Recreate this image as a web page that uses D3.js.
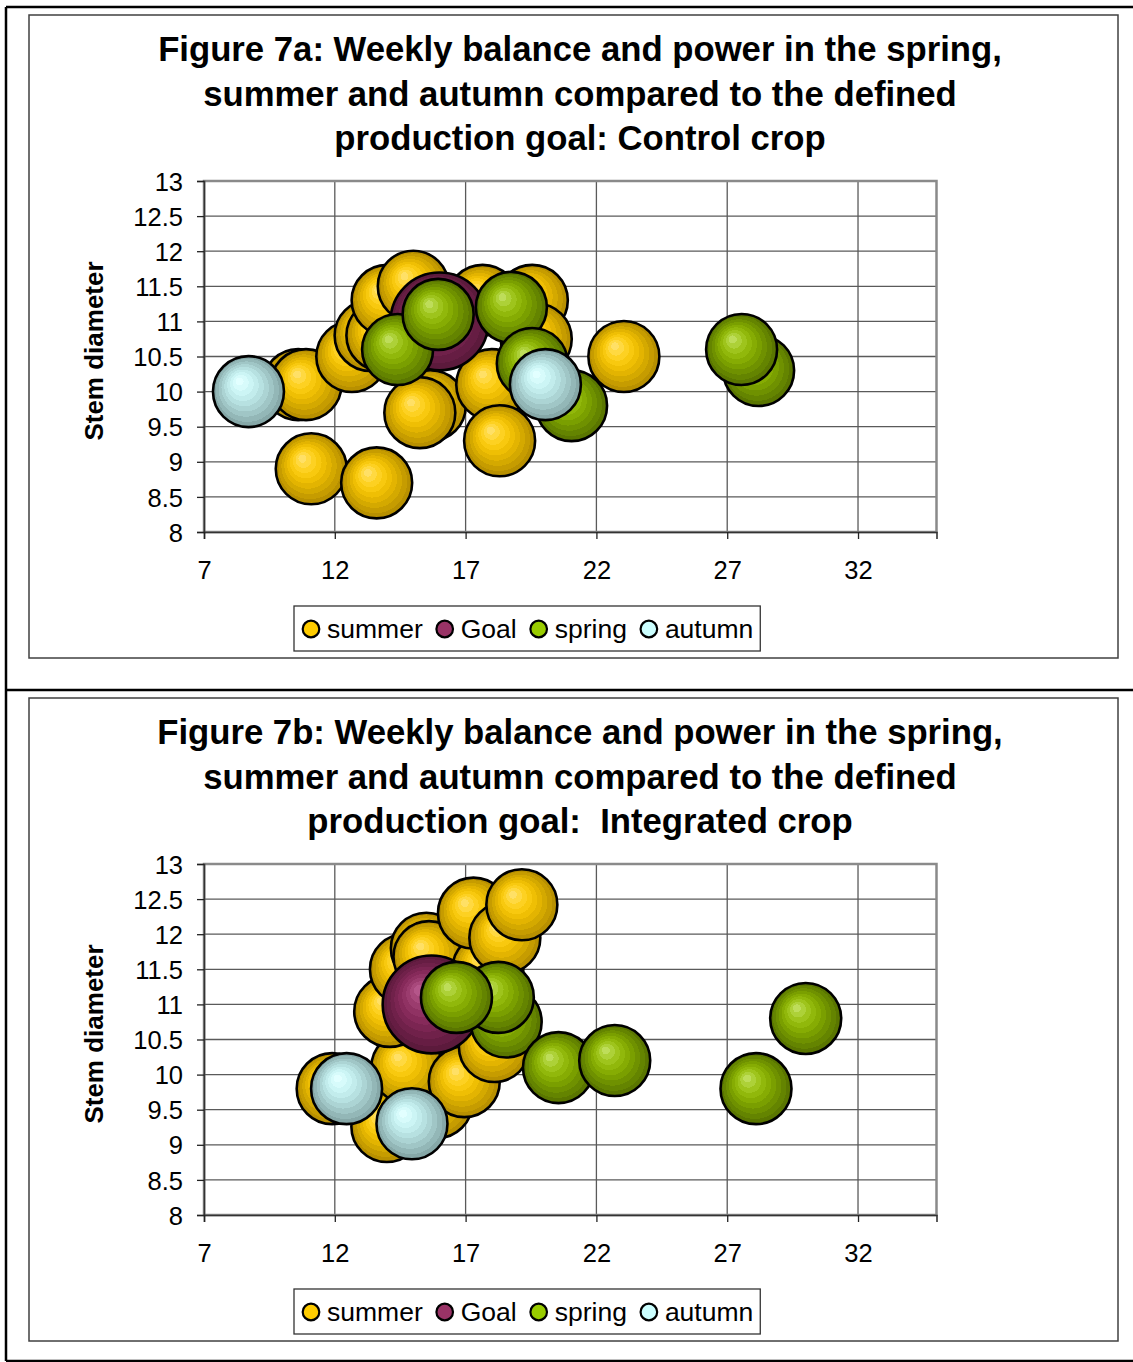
<!DOCTYPE html>
<html>
<head>
<meta charset="utf-8">
<script src="https://cdn.jsdelivr.net/npm/d3@7"></script>
<style>
  html, body { margin: 0; padding: 0; background: #fff; }
  svg { display: block; }
  text { font-family: "Liberation Sans", Arial, sans-serif; fill: #000; }
</style>
</head>
<body>
<script>
// ---- data -------------------------------------------------------------
const seriesNames = ["summer", "Goal", "spring", "autumn"];
const xTicks = [7, 12, 17, 22, 27, 32];
const yTicks = [8, 8.5, 9, 9.5, 10, 10.5, 11, 11.5, 12, 12.5, 13];
const xDomain = [7, 35];
const yDomain = [8, 13];

// bubble size values per series
const bubbleSizes = [1, 1.9, 1, 1];

// Figure 7a: Control crop  [week power, stem diameter]
const controlSummer = [
  [10.6, 10.1], [10.9, 10.1], [11.1, 8.9], [13.6, 8.7], [12.65, 10.5],
  [13.35, 10.8], [13.8, 10.8], [14.0, 11.3], [15.0, 11.5], [15.65, 9.8],
  [15.25, 9.7], [17.65, 11.3], [19.55, 11.3], [19.7, 10.75], [18.0, 10.1],
  [18.3, 9.3], [23.05, 10.5]
];
const controlGoal = [[16.0, 11.0]];
const controlSpring = [
  [14.4, 10.6], [15.95, 11.1], [18.75, 11.2], [21.05, 9.8], [19.55, 10.4],
  [28.2, 10.3], [27.55, 10.6]
];
const controlAutumn = [[8.7, 10.0], [20.05, 10.1]];

// Figure 7b: Integrated crop
const integratedSummer = [
  [11.9, 9.8], [13.99, 9.26], [15.9, 9.6], [14.75, 10.1], [16.95, 9.9],
  [18.1, 10.4], [14.1, 10.9], [14.7, 11.5], [15.5, 11.8], [15.6, 11.68],
  [17.85, 11.5], [17.3, 12.3], [18.5, 11.95], [19.15, 12.42]
];
const integratedGoal = [[15.7, 11.0]];
const integratedSpring = [
  [18.55, 10.75], [18.25, 11.1], [16.65, 11.1], [20.55, 10.1], [22.7, 10.2],
  [28.1, 9.8], [30.0, 10.8]
];
const integratedAutumn = [[12.45, 9.8], [14.95, 9.3]];

const controlTitle = [
  "Figure 7a: Weekly balance and power in the spring,",
  "summer and autumn compared to the defined",
  "production goal: Control crop"
];
const integratedTitle = [
  "Figure 7b: Weekly balance and power in the spring,",
  "summer and autumn compared to the defined",
  "production goal:\u00A0 Integrated crop"
];
const yAxisTitle = "Stem diameter";

// ---- styles -----------------------------------------------------------
const legendColors = ["#FFCC00", "#993366", "#99CC00", "#CCFFFF"];
const shadeRamps = [
  ["#FFE066", "#FFD21A", "#F2C000", "#D4A900", "#B89000"],
  ["#B5568A", "#9A3A6C", "#86295A", "#6F2049", "#5C1A3C"],
  ["#BEDD5A", "#9CC414", "#86AD00", "#6E9100", "#5A7600"],
  ["#E2FFFF", "#CCF7F7", "#B8E2E2", "#A0C6C6", "#86A8A8"]
];

const W = 1133, H = 1362;
const svg = d3.select("body").append("svg")
  .attr("width", W).attr("height", H);

const defs = svg.append("defs");
seriesNames.forEach((name, i) => {
  const g = defs.append("radialGradient")
    .attr("id", "shade" + i)
    .attr("cx", "0.5").attr("cy", "0.5").attr("r", "0.5")
    .attr("fx", "0.36").attr("fy", "0.34");
  const interp = d3.interpolateRgbBasis(shadeRamps[i]);
  const bands = 9;
  for (let b = 0; b < bands; b++) {
    const c = interp(b / (bands - 1));
    g.append("stop").attr("offset", (b / bands)).attr("stop-color", c);
    g.append("stop").attr("offset", ((b + 1) / bands)).attr("stop-color", c);
  }
});

// ---- page frame -------------------------------------------------------
const frame = svg.append("g").attr("stroke", "#000").attr("stroke-width", 2.5).attr("fill", "none");
frame.append("line").attr("x1", 6).attr("x2", W).attr("y1", 7).attr("y2", 7);
frame.append("line").attr("x1", 6).attr("x2", 6).attr("y1", 7).attr("y2", 1361);
frame.append("line").attr("x1", 6).attr("x2", W).attr("y1", 690).attr("y2", 690);
frame.append("line").attr("x1", 6).attr("x2", W).attr("y1", 1361).attr("y2", 1361);

// ---- one chart --------------------------------------------------------
function drawChart(dy, titleLines, seriesData) {
  const g = svg.append("g").attr("transform", `translate(0,${dy})`);

  // chart area border
  g.append("rect")
    .attr("x", 29).attr("y", 15).attr("width", 1089).attr("height", 643)
    .attr("fill", "#fff").attr("stroke", "#404040").attr("stroke-width", 1.5);

  // title
  g.append("g").selectAll("text").data(titleLines).join("text")
    .attr("x", 580).attr("y", (d, i) => 61 + i * 44.5)
    .attr("text-anchor", "middle")
    .attr("font-size", 34.7).attr("font-weight", "bold")
    .text(d => d);

  const x = d3.scaleLinear().domain(xDomain).range([204, 936.5]);
  const y = d3.scaleLinear().domain(yDomain).range([532, 181]);
  const r = d3.scaleSqrt().domain([0, 1]).range([0, 35.5]);

  // gridlines
  const grid = g.append("g").attr("stroke", "#5a5a5a").attr("stroke-width", 1.3);
  grid.selectAll(".hg").data(yTicks.slice(1, -1)).join("line")
    .attr("x1", x(xDomain[0])).attr("x2", x(xDomain[1]))
    .attr("y1", d => y(d)).attr("y2", d => y(d));
  grid.selectAll(".vg").data(xTicks.slice(1)).join("line")
    .attr("y1", y(yDomain[0])).attr("y2", y(yDomain[1]))
    .attr("x1", d => x(d)).attr("x2", d => x(d));

  // plot area border
  g.append("rect")
    .attr("x", x(xDomain[0])).attr("y", y(yDomain[1]))
    .attr("width", x(xDomain[1]) - x(xDomain[0]))
    .attr("height", y(yDomain[0]) - y(yDomain[1]))
    .attr("fill", "none").attr("stroke", "#8a8a8a").attr("stroke-width", 2.5);

  // axes
  const yAxis = g.append("g").attr("transform", `translate(${x(xDomain[0])},0)`)
    .call(d3.axisLeft(y).tickValues(yTicks).tickSize(7).tickPadding(14)
      .tickFormat(d3.format("")));
  const xAxis = g.append("g").attr("transform", `translate(0,${y(yDomain[0])})`)
    .call(d3.axisBottom(x).tickValues(xTicks).tickSize(7).tickPadding(22)
      .tickFormat(d3.format("")));
  [yAxis, xAxis].forEach(a => {
    a.select(".domain").attr("stroke", "#333").attr("stroke-width", 1.6);
    a.selectAll(".tick line").attr("stroke", "#222").attr("stroke-width", 1.3);
    a.selectAll("text").attr("font-size", 25.5)
      .attr("font-family", "'Liberation Sans', Arial, sans-serif").attr("fill", "#000");
  });
  yAxis.selectAll("text").attr("dy", "0.36em");
  xAxis.selectAll("text").attr("dy", "0.72em");

  g.append("text")
    .attr("transform", `translate(103,351) rotate(-90)`)
    .attr("text-anchor", "middle")
    .attr("font-size", 26).attr("font-weight", "bold")
    .text(yAxisTitle);

  // bubbles
  seriesData.forEach((pts, si) => {
    g.append("g").selectAll("circle").data(pts).join("circle")
      .attr("cx", d => x(d[0])).attr("cy", d => y(d[1]))
      .attr("r", r(bubbleSizes[si]))
      .attr("fill", `url(#shade${si})`)
      .attr("stroke", "#000").attr("stroke-width", 2.6);
  });

  // legend
  const lg = g.append("g");
  const box = lg.append("rect")
    .attr("y", 606).attr("height", 45)
    .attr("fill", "#fff").attr("stroke", "#333").attr("stroke-width", 1.3);
  let cx = 303;
  seriesNames.forEach((name, i) => {
    lg.append("circle").attr("cx", cx + 8).attr("cy", 629).attr("r", 8.3)
      .attr("fill", legendColors[i]).attr("stroke", "#000").attr("stroke-width", 2.2);
    const t = lg.append("text").attr("x", cx + 24).attr("y", 638)
      .attr("font-size", 26.5).text(name);
    cx += 24 + t.node().getComputedTextLength() + 14;
  });
  box.attr("x", 294).attr("width", cx - 294 - 7);
}

drawChart(0, controlTitle, [controlSummer, controlGoal, controlSpring, controlAutumn]);
drawChart(683, integratedTitle, [integratedSummer, integratedGoal, integratedSpring, integratedAutumn]);
</script>
</body>
</html>
